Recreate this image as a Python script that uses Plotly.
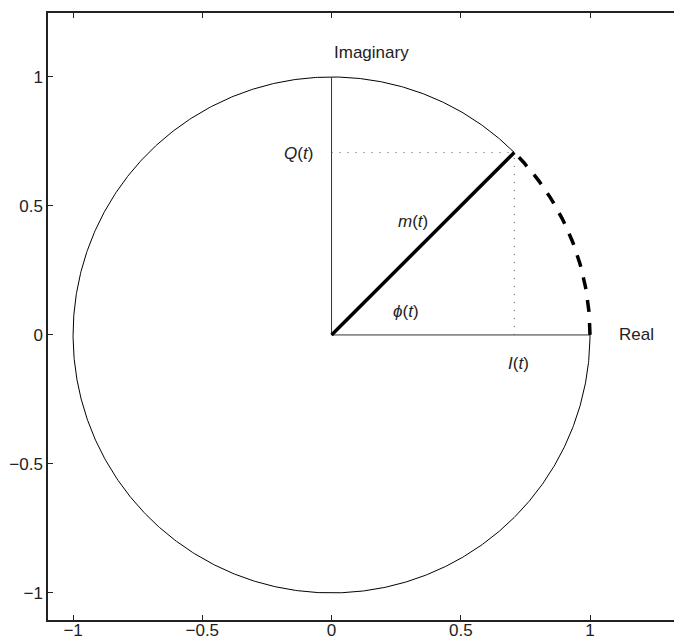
import numpy as np
import plotly.graph_objects as go

# Data
phi = np.pi / 4            # phase angle of the phasor
magnitude = 1.0            # m(t)
tick_vals = [-1, -0.5, 0, 0.5, 1]
tick_text = ["\u22121", "\u22120.5", "0", "0.5", "1"]

theta = np.linspace(phi, 2 * np.pi, 721)
arc = np.linspace(0, phi, 60)
I_val = magnitude * np.cos(phi)
Q_val = magnitude * np.sin(phi)

fig = go.Figure()
thin = dict(color="black", width=1)
# unit circle (remaining part, outside the dashed arc)
fig.add_trace(go.Scatter(x=np.cos(theta), y=np.sin(theta), mode="lines", line=thin, hoverinfo="skip"))
# axes of the phasor diagram
fig.add_trace(go.Scatter(x=[0, 0], y=[0, 1], mode="lines", line=dict(color="#333", width=1), hoverinfo="skip"))
fig.add_trace(go.Scatter(x=[0, 1], y=[0, 0], mode="lines", line=dict(color="#333", width=1), hoverinfo="skip"))
# dotted projections
dot = dict(color="#555", width=1, dash="1px,7px")
fig.add_trace(go.Scatter(x=[0, I_val], y=[Q_val, Q_val], mode="lines", line=dot, hoverinfo="skip"))
fig.add_trace(go.Scatter(x=[I_val, I_val], y=[0, Q_val], mode="lines", line=dot, hoverinfo="skip"))
# phasor
fig.add_trace(go.Scatter(x=[0, I_val], y=[0, Q_val], mode="lines", line=dict(color="black", width=3.5), hoverinfo="skip"))
# dashed arc
fig.add_trace(go.Scatter(x=magnitude * np.cos(arc), y=magnitude * np.sin(arc), mode="lines",
                         line=dict(color="black", width=3.5, dash="12px,11px"), hoverinfo="skip"))

fam = "Liberation Sans, Arial, Helvetica, sans-serif"
font = dict(family=fam, size=17, color="#222")
anns = [
    dict(x=0, y=1.093, text="Imaginary", xanchor="left"),
    dict(x=1.104, y=0, text="Real", xanchor="left"),
    dict(x=-0.065, y=0.705, text="<i>Q</i>(<i>t</i>)", xanchor="right"),
    dict(x=0.316, y=0.438, text="<i>m</i>(<i>t</i>)", xanchor="center"),
    dict(x=0.29, y=0.09, text="<i>\u03d5</i>(<i>t</i>)", xanchor="center"),
    dict(x=0.725, y=-0.112, text="<i>I</i>(<i>t</i>)", xanchor="center"),
]
for a in anns:
    fig.add_annotation(x=a["x"], y=a["y"], text=a["text"], xanchor=a["xanchor"], yanchor="middle",
                       showarrow=False, font=font)

axis_common = dict(showgrid=False, zeroline=False, showline=True, linecolor="#222", linewidth=1.5,
                   ticks="inside", ticklen=5, tickcolor="#222", tickwidth=1,
                   tickvals=tick_vals, ticktext=tick_text, automargin=False,
                   tickfont=dict(family=fam, size=17, color="#222"))
fig.update_xaxes(range=[-1.097, 1.325], mirror="ticks", ticklabelstandoff=-6, **axis_common)
fig.update_yaxes(range=[-1.105, 1.248], mirror=False, **axis_common)

fig.update_layout(width=674, height=641, margin=dict(l=48, r=0, t=13, b=21, autoexpand=False),
                  plot_bgcolor="white", paper_bgcolor="white", showlegend=False)
fig.write_html("out.html", config={"displayModeBar": False},
               post_script="document.body.style.margin='0';document.body.style.overflow='hidden';")
